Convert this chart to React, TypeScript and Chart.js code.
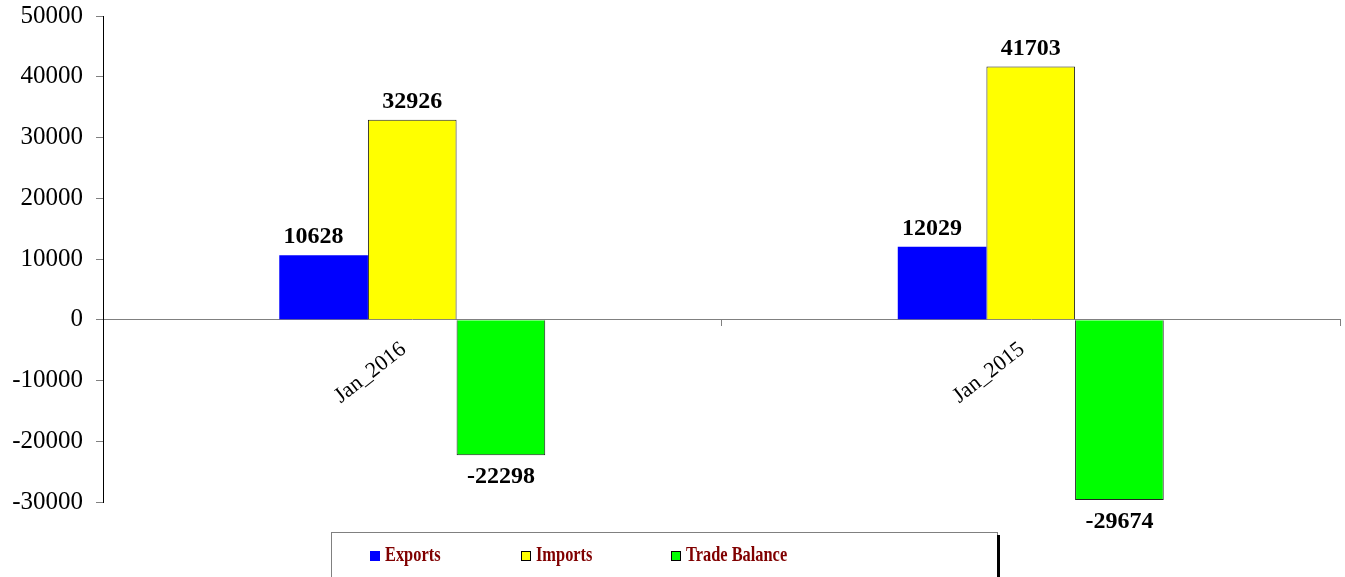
import React, { useEffect, useRef } from "react";
import { Chart, registerables } from "chart.js";

Chart.register(...registerables);

const categories = ["Jan_2016", "Jan_2015"];
const exportsData = [10628, 12029];
const importsData = [32926, 41703];
const tradeBalance = [-22298, -29674];
const seriesNames = ["Exports", "Imports", "Trade Balance"];
const yMin = -30000;
const yMax = 50000;
const yStep = 10000;

const SERIF = "'Liberation Serif', 'Times New Roman', serif";

const labelPlugin = {
  id: "valueLabels",
  afterDatasetsDraw(chart: any) {
    const ctx = chart.ctx;
    ctx.save();
    ctx.font = `bold 24px ${SERIF}`;
    ctx.fillStyle = "#000";
    ctx.textAlign = "center";
    chart.data.datasets.forEach((ds: any, di: number) => {
      const meta = chart.getDatasetMeta(di);
      meta.data.forEach((bar: any, i: number) => {
        const v = ds.data[i];
        const dx = di === 0 ? -10 : 0;
        if (v >= 0) {
          ctx.textBaseline = "bottom";
          ctx.fillText(String(v), bar.x + dx, bar.y - 6);
        } else {
          ctx.textBaseline = "top";
          ctx.fillText(String(v), bar.x + dx, bar.y + 10);
        }
      });
    });
    ctx.restore();
  },
};

const legendPlugin = {
  id: "boxLegend",
  afterDraw(chart: any) {
    const ctx = chart.ctx;
    ctx.save();
    const left = 331;
    const right = 997;
    const top = 532;
    ctx.strokeStyle = "#808080";
    ctx.lineWidth = 1;
    ctx.strokeRect(left + 0.5, top + 0.5, right - left, 60);
    ctx.fillStyle = "#000";
    ctx.fillRect(right, top + 3, 3, 60);
    const xs = [370, 521, 671];
    ctx.font = `bold 21px ${SERIF}`;
    ctx.textBaseline = "middle";
    ctx.textAlign = "left";
    chart.data.datasets.forEach((ds: any, i: number) => {
      const x = xs[i];
      const y = 556;
      ctx.fillStyle = ds.backgroundColor;
      ctx.fillRect(x, y - 5, 10, 10);
      if (i > 0) {
        ctx.strokeStyle = "#000";
        ctx.strokeRect(x + 0.5, y - 4.5, 9, 9);
      }
      ctx.fillStyle = "#800000";
      ctx.save();
      ctx.translate(x + 15, y);
      ctx.scale(0.78, 1);
      ctx.fillText(ds.label, 0, 0);
      ctx.restore();
    });
    ctx.restore();
  },
};

export default function App() {
  const ref = useRef<HTMLCanvasElement>(null);
  useEffect(() => {
    document.body.style.margin = "0";
    const chart = new Chart(ref.current!, {
      type: "bar",
      data: {
        labels: categories,
        datasets: [
          { label: seriesNames[0], data: exportsData, backgroundColor: "#0000ff", borderColor: "#0000ff", borderWidth: 0 },
          { label: seriesNames[1], data: importsData, backgroundColor: "#ffff00", borderColor: "#222222", borderWidth: 1 },
          { label: seriesNames[2], data: tradeBalance, backgroundColor: "#00ff00", borderColor: "#222222", borderWidth: 1 },
        ],
      },
      options: {
        responsive: false,
        animation: false,
        layout: { padding: { left: 0, right: 5, top: 16, bottom: 75 } },
        plugins: { legend: { display: false }, tooltip: { enabled: false } },
        datasets: { bar: { categoryPercentage: 0.43, barPercentage: 1 } },
        scales: {
          x: {
            position: { y: 0 } as any,
            grid: { drawOnChartArea: false, color: "#808080", tickLength: 6, offset: true },
            border: { color: "#808080", width: 1 },
            afterFit: (s: any) => { s.paddingLeft = 0; s.paddingRight = 0; s.paddingTop = 0; s.paddingBottom = 0; },
            ticks: {
              color: "#000",
              font: { family: SERIF, size: 22 },
              minRotation: 38,
              maxRotation: 38,
              padding: 4,
              callback: (_v: any, i: number) => categories[i] + "  ",
            },
          },
          y: {
            min: yMin,
            max: yMax,
            afterFit: (s: any) => { s.width = 103; s.paddingTop = 0; s.paddingBottom = 0; },
            grid: { drawOnChartArea: false, color: "#808080", tickLength: 7 },
            border: { color: "#000", width: 1 },
            ticks: {
              stepSize: yStep,
              color: "#000",
              font: { family: SERIF, size: 25 },
              padding: 13,
              callback: (v: any) => String(v),
            },
          },
        },
      },
      plugins: [labelPlugin, legendPlugin],
    });
    return () => chart.destroy();
  }, []);
  return (
    <div style={{ width: 1345, height: 577 }}>
      <canvas ref={ref} width={1345} height={577} style={{ display: "block" }} />
    </div>
  );
}
